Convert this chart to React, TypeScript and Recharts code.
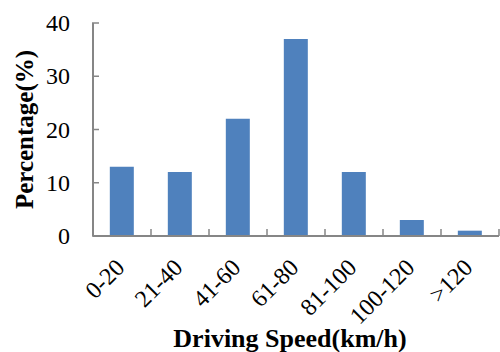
import React from 'react';
import { BarChart, Bar, XAxis, YAxis } from 'recharts';

const categories = ['0-20', '21-40', '41-60', '61-80', '81-100', '100-120', '>120'];
const percentages = [13, 12, 22, 37, 12, 3, 1];
const yTicks = [0, 10, 20, 30, 40];

const data = categories.map((name, i) => ({ name, value: percentages[i] }));

const AXIS = '#868686';
const FONT = "'Liberation Serif', 'Times New Roman', Times, serif";
const HALF_BAND = 29;

const XTick = (props: any) => {
  const { x, y, payload, index } = props;
  const last = index === categories.length - 1;
  return (
    <g>
      <line x1={x - HALF_BAND} y1={y} x2={x - HALF_BAND} y2={y - 7} stroke={AXIS} strokeWidth={1.5} />
      {last && (
        <line x1={x + HALF_BAND} y1={y} x2={x + HALF_BAND} y2={y - 7} stroke={AXIS} strokeWidth={1.5} />
      )}
      <text
        x={x + 4}
        y={y + 33}
        textAnchor="end"
        transform={`rotate(-45, ${x + 4}, ${y + 33})`}
        style={{ fontFamily: FONT, fontSize: 24 }}
        fill="#000"
      >
        {payload.value}
      </text>
    </g>
  );
};

const YTick = (props: any) => {
  const { x, y, payload } = props;
  return (
    <g>
      <line x1={x + 22} y1={y} x2={x + 29} y2={y} stroke={AXIS} strokeWidth={1.5} />
      <text x={x} y={y} dy={8} textAnchor="end" style={{ fontFamily: FONT, fontSize: 24 }} fill="#000">
        {payload.value}
      </text>
    </g>
  );
};

const YLabel = (props: any) => {
  const { viewBox } = props;
  const cx = 24;
  const cy = viewBox.y + viewBox.height / 2;
  return (
    <text
      x={cx}
      y={cy}
      textAnchor="middle"
      dominantBaseline="central"
      transform={`rotate(-90, ${cx}, ${cy})`}
      style={{ fontFamily: FONT, fontWeight: 'bold', fontSize: 25 }}
      fill="#000"
    >
      Percentage(%)
    </text>
  );
};

const XLabel = (props: any) => {
  const { viewBox } = props;
  const cx = viewBox.x + viewBox.width / 2 - 6;
  return (
    <text x={cx} y={347} textAnchor="middle" style={{ fontFamily: FONT, fontWeight: 'bold', fontSize: 26 }} fill="#000">
      Driving Speed(km/h)
    </text>
  );
};

export default function App() {
  return (
    <div style={{ position: 'absolute', left: 0, top: 0, background: '#fff' }}>
      <BarChart
        width={500}
        height={352}
        data={data}
        margin={{ top: 23, right: 1, left: 0, bottom: 0 }}
        barCategoryGap="29%"
      >
        <XAxis
          dataKey="name"
          height={116}
          interval={0}
          axisLine={{ stroke: AXIS, strokeWidth: 2 }}
          tickLine={false}
          tickSize={0}
          tickMargin={0}
          tick={<XTick />}
          label={<XLabel />}
        />
        <YAxis
          width={93}
          domain={[0, 40]}
          ticks={yTicks}
          interval={0}
          axisLine={{ stroke: AXIS, strokeWidth: 2 }}
          tickLine={false}
          tickSize={0}
          tickMargin={23}
          tick={<YTick />}
          label={<YLabel />}
        />
        <Bar dataKey="value" fill="#4F81BD" isAnimationActive={false} />
      </BarChart>
    </div>
  );
}
